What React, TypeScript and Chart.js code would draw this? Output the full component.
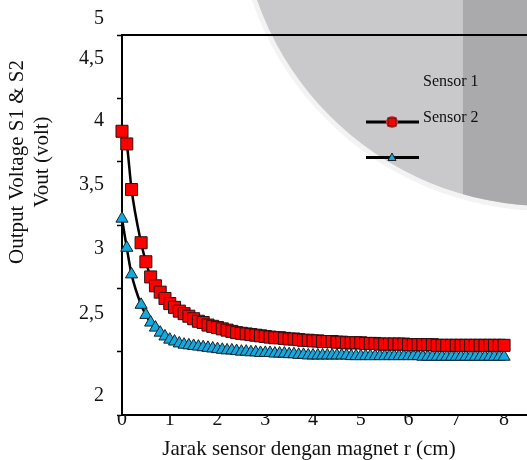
import React, { useEffect, useRef } from 'react';
import { Chart, registerables } from 'chart.js';

Chart.register(...registerables);

// ---- data ----
const X_VALUES = [
  0, 0.1, 0.2,
  0.4, 0.5, 0.6, 0.7, 0.8, 0.9, 1.0,
  1.1, 1.2, 1.3, 1.4, 1.5, 1.6, 1.7, 1.8, 1.9, 2.0,
  2.1, 2.2, 2.3, 2.4, 2.5, 2.6, 2.7, 2.8, 2.9, 3.0,
  3.1, 3.2, 3.3, 3.4, 3.5, 3.6, 3.7, 3.8, 3.9, 4.0,
  4.1, 4.2, 4.3, 4.4, 4.5, 4.6, 4.7, 4.8, 4.9, 5.0,
  5.1, 5.2, 5.3, 5.4, 5.5, 5.6, 5.7, 5.8, 5.9, 6.0,
  6.1, 6.2, 6.3, 6.4, 6.5, 6.6, 6.7, 6.8, 6.9, 7.0,
  7.1, 7.2, 7.3, 7.4, 7.5, 7.6, 7.7, 7.8, 7.9, 8.0,
];

const SENSOR1 = [
  4.24, 4.14, 3.78,
  3.36, 3.21, 3.09, 3.02, 2.97, 2.92, 2.88,
  2.85, 2.82, 2.80, 2.78, 2.76, 2.74, 2.73, 2.71, 2.70, 2.69,
  2.68, 2.67, 2.66, 2.65, 2.645, 2.64, 2.635, 2.63, 2.625, 2.62,
  2.615, 2.61, 2.61, 2.605, 2.60, 2.60, 2.595, 2.59, 2.59, 2.585,
  2.585, 2.58, 2.58, 2.58, 2.575, 2.575, 2.57, 2.57, 2.57, 2.57,
  2.565, 2.565, 2.565, 2.56, 2.56, 2.56, 2.56, 2.56, 2.56, 2.555,
  2.555, 2.555, 2.555, 2.555, 2.555, 2.55, 2.55, 2.55, 2.55, 2.55,
  2.55, 2.55, 2.55, 2.55, 2.55, 2.55, 2.55, 2.55, 2.55, 2.55,
];

const SENSOR2 = [
  3.55, 3.32, 3.11,
  2.87, 2.79, 2.73, 2.69, 2.65, 2.62, 2.595,
  2.58, 2.565, 2.555, 2.55, 2.545, 2.54, 2.535, 2.53, 2.525, 2.52,
  2.515, 2.51, 2.51, 2.505, 2.50, 2.50, 2.495, 2.495, 2.49, 2.49,
  2.49, 2.485, 2.485, 2.485, 2.48, 2.48, 2.475, 2.475, 2.47, 2.47,
  2.47, 2.47, 2.47, 2.47, 2.47, 2.47, 2.47, 2.465, 2.465, 2.465,
  2.465, 2.465, 2.465, 2.465, 2.465, 2.465, 2.465, 2.465, 2.465, 2.465,
  2.465, 2.465, 2.46, 2.46, 2.46, 2.46, 2.46, 2.46, 2.46, 2.46,
  2.46, 2.46, 2.46, 2.46, 2.46, 2.46, 2.46, 2.46, 2.46, 2.46,
];

const SERIES_NAMES = ['Sensor 1', 'Sensor 2'];
const X_TICKS = [0, 1, 2, 3, 4, 5, 6, 7, 8];
const Y_MARKS = [2, 2.5, 3, 3.5, 4, 4.5, 5];
const Y_LABELS = ['2', '2,5', '3', '3,5', '4', '4,5', '5'];
const Y_LABEL_AT = [2.15, 2.8, 3.31, 3.82, 4.32, 4.81, 5.13];
const X_TITLE = 'Jarak sensor dengan magnet r (cm)';
const Y_TITLE = ['Output Voltage S1 & S2', 'Vout (volt)'];

const SERIF = '"Liberation Serif", "Times New Roman", serif';
const RED = '#ff0000';
const BLUE = '#17a8e0';
const TEXT = '#111111';

const backgroundPlugin = {
  id: 'scanBackground',
  beforeDraw(chart: any) {
    const ctx = chart.ctx;
    const w = chart.width;
    const h = chart.height;
    ctx.save();
    ctx.fillStyle = '#ffffff';
    ctx.fillRect(0, 0, w, h);
    ctx.beginPath();
    ctx.arc(547, -101, 312, 0, Math.PI * 2);
    ctx.fillStyle = '#f3f3f4';
    ctx.fill();
    ctx.beginPath();
    ctx.arc(547, -101, 307, 0, Math.PI * 2);
    ctx.fillStyle = '#c9c9cc';
    ctx.fill();
    ctx.clip();
    ctx.fillStyle = '#aaaaad';
    ctx.fillRect(463, 0, w - 463, h);
    ctx.restore();
  },
};

const decorPlugin = {
  id: 'decor',
  afterDraw(chart: any) {
    const ctx = chart.ctx;
    const area = chart.chartArea;
    ctx.save();
    ctx.strokeStyle = '#000';
    ctx.lineWidth = 2;
    ctx.beginPath();
    ctx.moveTo(area.left - 1, area.top);
    ctx.lineTo(area.right, area.top);
    ctx.stroke();

    // legend
    ctx.fillStyle = TEXT;
    ctx.font = `16px ${SERIF}`;
    ctx.textAlign = 'left';
    ctx.textBaseline = 'alphabetic';
    ctx.fillText(SERIES_NAMES[0], 423, 86);
    ctx.fillText(SERIES_NAMES[1], 423, 122);

    ctx.lineWidth = 3;
    ctx.strokeStyle = '#000';
    ctx.beginPath();
    ctx.moveTo(366, 122);
    ctx.lineTo(419, 122);
    ctx.moveTo(366, 157.5);
    ctx.lineTo(419, 157.5);
    ctx.stroke();

    ctx.fillStyle = '#ff2a2a';
    ctx.beginPath();
    ctx.arc(392, 122, 6, 0, Math.PI * 2);
    ctx.fill();
    ctx.fillStyle = RED;
    ctx.strokeStyle = '#222';
    ctx.lineWidth = 1;
    ctx.fillRect(388, 118, 8, 8);
    ctx.strokeRect(388, 118, 8, 8);

    ctx.fillStyle = BLUE;
    ctx.beginPath();
    ctx.moveTo(392, 153);
    ctx.lineTo(396, 160.5);
    ctx.lineTo(388, 160.5);
    ctx.closePath();
    ctx.fill();
    ctx.stroke();

    // x title
    ctx.fillStyle = TEXT;
    ctx.font = `21px ${SERIF}`;
    ctx.textAlign = 'center';
    ctx.textBaseline = 'alphabetic';
    ctx.fillText(X_TITLE, 309, 455);

    // y title (two rotated lines)
    const lineX = [23, 48];
    Y_TITLE.forEach((t, i) => {
      ctx.save();
      ctx.translate(lineX[i], 162);
      ctx.rotate(-Math.PI / 2);
      ctx.fillText(t, 0, 0);
      ctx.restore();
    });
    ctx.restore();
  },
};

export default function App() {
  const canvasRef = useRef<HTMLCanvasElement | null>(null);

  useEffect(() => {
    const canvas = canvasRef.current;
    if (!canvas) return;
    const chart = new Chart(canvas, {
      type: 'line',
      data: {
        datasets: [
          {
            label: SERIES_NAMES[0],
            data: X_VALUES.map((x, i) => ({ x, y: SENSOR1[i] })),
            borderColor: '#000',
            borderWidth: 2.5,
            cubicInterpolationMode: 'monotone',
            pointStyle: 'rect',
            pointRadius: 8.5,
            pointBackgroundColor: RED,
            pointBorderColor: '#2a1010',
            pointBorderWidth: 1,
            fill: false,
            clip: false,
          } as any,
          {
            label: SERIES_NAMES[1],
            data: X_VALUES.map((x, i) => ({ x, y: SENSOR2[i] })),
            borderColor: '#000',
            borderWidth: 2.5,
            cubicInterpolationMode: 'monotone',
            pointStyle: 'triangle',
            pointRadius: 7,
            pointBackgroundColor: BLUE,
            pointBorderColor: '#10242c',
            pointBorderWidth: 1,
            fill: false,
            clip: false,
          } as any,
        ],
      },
      options: {
        animation: false,
        responsive: false,
        layout: { autoPadding: false, padding: { top: 35, left: 0, right: 0, bottom: 0 } },
        plugins: {
          legend: { display: false },
          tooltip: { enabled: false },
          title: { display: false },
        },
        scales: {
          x: {
            type: 'linear',
            min: 0,
            max: 8.48,
            afterBuildTicks: (s: any) => {
              s.ticks = X_TICKS.map((v) => ({ value: v }));
            },
            afterFit: (s: any) => {
              s.height = 45;
              s.paddingLeft = 0;
              s.paddingRight = 0;
            },
            grid: { display: false, drawTicks: false },
            border: { display: true, color: '#000', width: 2 },
            ticks: {
              font: { family: SERIF, size: 20 },
              color: TEXT,
              padding: -7,
              autoSkip: false,
              maxRotation: 0,
              callback: (v: any) => String(v),
            },
          },
          y: {
            type: 'linear',
            min: 2,
            max: 5,
            afterBuildTicks: (s: any) => {
              s.ticks = [
                ...Y_MARKS.map((v) => ({ value: v })),
                ...Y_LABEL_AT.map((v) => ({ value: v })),
              ];
            },
            afterFit: (s: any) => {
              s.width = 122;
              s.paddingTop = 0;
              s.paddingBottom = 0;
            },
            grid: {
              drawOnChartArea: false,
              drawTicks: true,
              tickLength: 5,
              tickWidth: 1.5,
              tickColor: (c: any) => (c.index < Y_MARKS.length ? '#000' : 'rgba(0,0,0,0)'),
              color: 'rgba(0,0,0,0)',
            },
            border: { display: true, color: '#000', width: 2 },
            ticks: {
              font: { family: SERIF, size: 20 },
              color: TEXT,
              padding: 13,
              autoSkip: false,
              callback: (_v: any, i: number) =>
                i < Y_MARKS.length ? '' : Y_LABELS[i - Y_MARKS.length],
            },
          },
        },
      } as any,
      plugins: [backgroundPlugin, decorPlugin],
    });
    return () => chart.destroy();
  }, []);

  return (
    <div style={{ position: 'absolute', left: 0, top: 0, width: 527, height: 460 }}>
      <canvas ref={canvasRef} width={527} height={460} style={{ display: 'block' }} />
    </div>
  );
}
